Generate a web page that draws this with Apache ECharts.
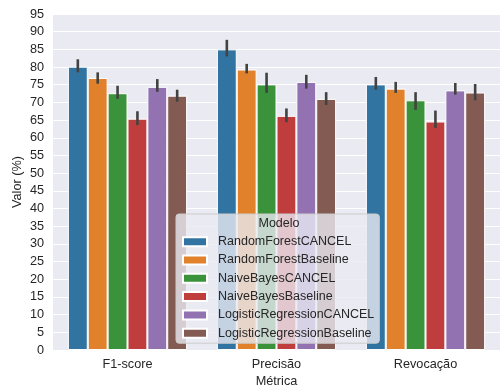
<!DOCTYPE html>
<html>
<head>
<meta charset="utf-8">
<script src="https://cdn.jsdelivr.net/npm/echarts@6/dist/echarts.min.js"></script>
<style>html,body{margin:0;padding:0;background:#fff}#c{width:500px;height:387px}</style>
</head>
<body>
<div id="c"></div>
<script>
const categories = ['F1-score', 'Precisão', 'Revocação'];
const models = ['RandomForestCANCEL', 'RandomForestBaseline', 'NaiveBayesCANCEL', 'NaiveBayesBaseline', 'LogisticRegressionCANCEL', 'LogisticRegressionBaseline'];
const colors = ['#3274A1', '#E1812C', '#3A923A', '#C03D3E', '#9372B2', '#845B53'];

const rfCancel   = [80.1, 85.0, 75.1];
const rfBase     = [76.9, 79.3, 73.9];
const nbCancel   = [72.6, 75.1, 70.6];
const nbBase     = [65.4, 66.2, 64.6];
const lrCancel   = [74.4, 75.8, 73.4];
const lrBase     = [71.9, 71.0, 72.8];

const rfCancelLo = [78.5, 83.0, 73.6], rfCancelHi = [82.2, 87.7, 77.2];
const rfBaseLo   = [75.3, 78.2, 72.7], rfBaseHi   = [78.5, 80.9, 75.8];
const nbCancelLo = [71.0, 72.7, 67.9], nbCancelHi = [74.7, 78.4, 72.9];
const nbBaseLo   = [63.6, 64.4, 62.8], nbBaseHi   = [67.5, 68.3, 67.7];
const lrCancelLo = [73.0, 73.9, 72.2], lrCancelHi = [76.6, 77.8, 75.5];
const lrBaseLo   = [70.2, 69.3, 70.6], lrBaseHi   = [73.6, 72.9, 75.2];

const yTicks = {min: 0, max: 95, interval: 5};

const values = [rfCancel, rfBase, nbCancel, nbBase, lrCancel, lrBase];
const lows = [rfCancelLo, rfBaseLo, nbCancelLo, nbBaseLo, lrCancelLo, lrBaseLo];
const highs = [rfCancelHi, rfBaseHi, nbCancelHi, nbBaseHi, lrCancelHi, lrBaseHi];

const FONT = 'Liberation Sans, Arial, sans-serif';
const TXT = '#262626';
const nM = models.length;

const series = [];
models.forEach((m, i) => {
  series.push({
    name: m, type: 'bar', data: values[i],
    barGap: '0%', barCategoryGap: '20%',
    itemStyle: {color: colors[i], borderColor: '#ffffff', borderWidth: 1},
    emphasis: {disabled: true}
  });
});
models.forEach((m, i) => {
  series.push({
    name: 'err_' + m, type: 'custom', z: 3,
    data: categories.map((c, k) => [k, lows[i][k], highs[i][k]]),
    renderItem: function (params, api) {
      const k = api.value(0);
      const band = api.size([1, 0])[0];
      const bw = band * 0.8 / nM;
      const cx = api.coord([k, 0])[0] + (i - (nM - 1) / 2) * bw;
      const y1 = api.coord([k, api.value(1)])[1];
      const y2 = api.coord([k, api.value(2)])[1];
      return {type: 'line', shape: {x1: cx, y1: y1, x2: cx, y2: y2},
        style: {stroke: '#424242', lineWidth: 2.6, lineCap: 'butt'}};
    }
  });
});

const chart = echarts.init(document.getElementById('c'), null, {renderer: 'canvas'});
chart.setOption({
  animation: false,
  textStyle: {fontFamily: FONT},
  grid: {left: 53, right: 0, top: 14, bottom: 37, show: true, backgroundColor: '#EAEAF2', borderWidth: 0, containLabel: false, outerBoundsMode: 'none'},
  xAxis: {
    type: 'category', data: categories,
    axisLine: {show: false}, axisTick: {show: false},
    axisLabel: {color: TXT, fontSize: 12.7, margin: 8, fontFamily: FONT},
    name: 'Métrica', nameLocation: 'middle', nameGap: 25, nameMoveOverlap: false,
    nameTextStyle: {color: TXT, fontSize: 12.7, fontFamily: FONT},
    splitLine: {show: false}
  },
  yAxis: {
    type: 'value', min: yTicks.min, max: yTicks.max, interval: yTicks.interval,
    axisLine: {show: false}, axisTick: {show: false},
    axisLabel: {color: TXT, fontSize: 12.7, margin: 9, fontFamily: FONT},
    splitLine: {show: true, lineStyle: {color: '#ffffff', width: 1.2}},
    name: 'Valor (%)', nameLocation: 'middle', nameGap: 29, nameMoveOverlap: false,
    nameTextStyle: {color: TXT, fontSize: 12.7, fontFamily: FONT}
  },
  legend: {
    data: models, orient: 'vertical', left: 176, top: 214,
    icon: 'rect', itemWidth: 24, itemHeight: 9, itemGap: 4.3,
    padding: [20.7, 5, 3, 6],
    backgroundColor: 'rgba(234,234,242,0.8)', borderColor: '#cccccc', borderWidth: 1, borderRadius: 3,
    textStyle: {color: TXT, fontSize: 12.5, fontFamily: FONT, lineHeight: 14, padding: [0, 0, 0, 6]},
    selectedMode: false
  },
  graphic: [{
    type: 'text', z: 100, x: 279, y: 224,
    style: {text: 'Modelo', fill: TXT, font: '12.5px ' + FONT, textAlign: 'center', textVerticalAlign: 'middle'}
  }],
  series: series
});
</script>
</body>
</html>
